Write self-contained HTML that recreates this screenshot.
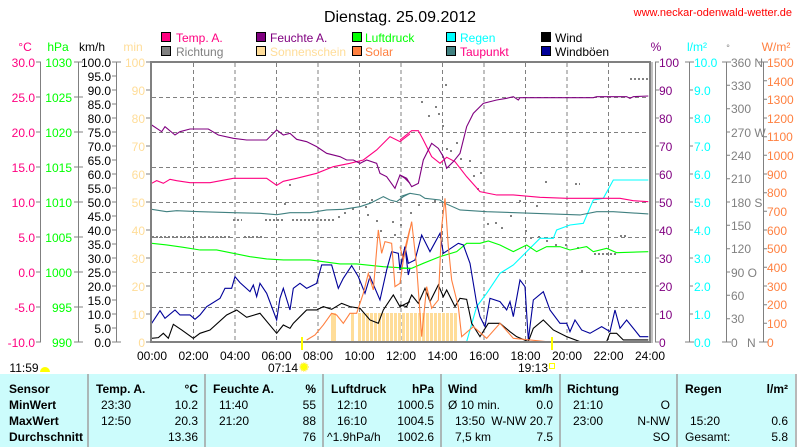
<!DOCTYPE html>
<html><head><meta charset="utf-8"><style>
body{margin:0;background:#fff;}
svg{display:block;font-family:"Liberation Sans",sans-serif;}
.n{vector-effect:non-scaling-stroke;fill:none;stroke-width:1.1;}
</style></head><body>
<svg width="800" height="447" viewBox="0 0 800 447" xmlns="http://www.w3.org/2000/svg">
<rect width="800" height="447" fill="#fff"/>
<text x="400" y="22" font-size="16" text-anchor="middle">Dienstag. 25.09.2012</text>
<text x="792" y="16" font-size="11" fill="#ff0000" text-anchor="end">www.neckar-odenwald-wetter.de</text>
<g font-size="12">
<rect x="161.5" y="32.5" width="9" height="9" fill="#ff0080" stroke="#000"/><text x="176" y="42" fill="#ff0080">Temp. A.</text>
<rect x="161.5" y="46.5" width="9" height="9" fill="#808080" stroke="#000"/><text x="176" y="56" fill="#808080">Richtung</text>
<rect x="256.5" y="32.5" width="9" height="9" fill="#800080" stroke="#000"/><text x="270" y="42" fill="#800080">Feuchte A.</text>
<rect x="256.5" y="46.5" width="9" height="9" fill="#ffdd99" stroke="#000"/><text x="270" y="56" fill="#ffdd99">Sonnenschein</text>
<rect x="352.5" y="32.5" width="9" height="9" fill="#00ff00" stroke="#000"/><text x="365" y="42" fill="#00ff00">Luftdruck</text>
<rect x="352.5" y="46.5" width="9" height="9" fill="#ff8040" stroke="#000"/><text x="365" y="56" fill="#ff8040">Solar</text>
<rect x="446.5" y="32.5" width="9" height="9" fill="#00ffff" stroke="#000"/><text x="460" y="42" fill="#00ffff">Regen</text>
<rect x="446.5" y="46.5" width="9" height="9" fill="#408080" stroke="#000"/><text x="460" y="56" fill="#ff0080">Taupunkt</text>
<rect x="541.5" y="32.5" width="9" height="9" fill="#000" stroke="#000"/><text x="555" y="42">Wind</text>
<rect x="541.5" y="46.5" width="9" height="9" fill="#000099" stroke="#000"/><text x="555" y="56">Windböen</text>
</g>
<g font-size="12">
<text x="25" y="51" fill="#ff0080" text-anchor="middle">°C</text>
<text x="58" y="51" fill="#00ff00" text-anchor="middle">hPa</text>
<text x="92" y="51" text-anchor="middle">km/h</text>
<text x="133" y="51" fill="#ffdd99" text-anchor="middle">min</text>
<text x="656" y="51" fill="#800080" text-anchor="middle">%</text>
<text x="697" y="51" fill="#00ffff" text-anchor="middle">l/m²</text>
<text x="728" y="51" fill="#808080" text-anchor="middle" font-size="9">°</text>
<text x="776" y="51" fill="#ff8040" text-anchor="middle">W/m²</text>
</g>
<g stroke="#808080" stroke-dasharray="4,3" stroke-width="1">
<line x1="193.5" y1="63" x2="193.5" y2="342"/><line x1="235" y1="63" x2="235" y2="342"/><line x1="276.5" y1="63" x2="276.5" y2="342"/><line x1="318" y1="63" x2="318" y2="342"/><line x1="359.5" y1="63" x2="359.5" y2="342"/><line x1="401" y1="63" x2="401" y2="342"/><line x1="442.5" y1="63" x2="442.5" y2="342"/><line x1="484" y1="63" x2="484" y2="342"/><line x1="525.5" y1="63" x2="525.5" y2="342"/><line x1="567" y1="63" x2="567" y2="342"/><line x1="608.5" y1="63" x2="608.5" y2="342"/>
<line x1="152" y1="97.5" x2="650" y2="97.5"/><line x1="152" y1="132.5" x2="650" y2="132.5"/><line x1="152" y1="167.5" x2="650" y2="167.5"/><line x1="152" y1="202.5" x2="650" y2="202.5"/><line x1="152" y1="237.5" x2="650" y2="237.5"/><line x1="152" y1="272.5" x2="650" y2="272.5"/><line x1="152" y1="307.5" x2="650" y2="307.5"/>
</g>
<g fill="#ffdd99">
<rect x="331" y="313" width="3" height="29"/><rect x="334" y="313" width="2" height="29"/><rect x="351" y="313" width="3" height="29"/>
<rect x="358" y="313" width="3" height="29"/><rect x="362" y="313" width="3" height="29"/><rect x="366" y="313" width="3" height="29"/><rect x="370" y="313" width="3" height="29"/><rect x="374" y="313" width="3" height="29"/><rect x="378" y="313" width="3" height="29"/><rect x="382" y="313" width="3" height="29"/><rect x="386" y="313" width="3" height="29"/><rect x="390" y="313" width="3" height="29"/><rect x="394" y="313" width="3" height="29"/><rect x="398" y="313" width="3" height="29"/><rect x="402" y="313" width="3" height="29"/><rect x="406" y="313" width="3" height="29"/><rect x="410" y="313" width="3" height="29"/><rect x="414" y="313" width="3" height="29"/><rect x="418" y="313" width="3" height="29"/><rect x="422" y="313" width="3" height="29"/><rect x="426" y="313" width="3" height="29"/><rect x="430" y="313" width="3" height="29"/><rect x="434" y="313" width="3" height="29"/><rect x="438" y="313" width="3" height="29"/><rect x="442" y="313" width="3" height="29"/><rect x="446" y="313" width="3" height="29"/><rect x="450" y="313" width="3" height="29"/><rect x="454" y="313" width="3" height="29"/>
</g>
<g fill="#808080">
<g stroke="#808080" stroke-dasharray="2,2" stroke-width="2">
<line x1="152" y1="237" x2="232" y2="237"/><line x1="244" y1="237" x2="264" y2="237"/>
<line x1="233" y1="220" x2="242" y2="220"/><line x1="265" y1="220" x2="285" y2="220"/><line x1="292" y1="220" x2="336" y2="220"/>
<line x1="630" y1="79" x2="649" y2="79"/><line x1="575" y1="184" x2="580" y2="184"/><line x1="620" y1="236" x2="628" y2="236"/><line x1="594" y1="254" x2="616" y2="254"/>
</g>
<rect x="289" y="184" width="2" height="2"/><rect x="284" y="203" width="2" height="2"/><rect x="338" y="216" width="2" height="2"/><rect x="344" y="212" width="2" height="2"/><rect x="352" y="208" width="2" height="2"/><rect x="365" y="206" width="2" height="2"/><rect x="367" y="214" width="2" height="2"/><rect x="371" y="199" width="2" height="2"/><rect x="376" y="220" width="2" height="2"/><rect x="380" y="230" width="2" height="2"/><rect x="394" y="234" width="2" height="2"/><rect x="400" y="224" width="2" height="2"/><rect x="400" y="199" width="2" height="2"/><rect x="392" y="221" width="2" height="2"/>
<rect x="421" y="101" width="2" height="2"/><rect x="445" y="84" width="2" height="2"/><rect x="435" y="106" width="2" height="2"/><rect x="428" y="115" width="2" height="2"/><rect x="438" y="113" width="2" height="2"/><rect x="442" y="125" width="2" height="2"/><rect x="446" y="148" width="2" height="2"/><rect x="456" y="142" width="2" height="2"/><rect x="450" y="150" width="2" height="2"/><rect x="460" y="158" width="2" height="2"/><rect x="469" y="160" width="2" height="2"/><rect x="473" y="175" width="2" height="2"/><rect x="477" y="188" width="2" height="2"/><rect x="480" y="172" width="2" height="2"/><rect x="495" y="222" width="2" height="2"/><rect x="487" y="223" width="2" height="2"/><rect x="510" y="215" width="2" height="2"/><rect x="519" y="200" width="2" height="2"/><rect x="525" y="230" width="2" height="2"/><rect x="530" y="237" width="2" height="2"/><rect x="538" y="236" width="2" height="2"/><rect x="546" y="240" width="2" height="2"/><rect x="555" y="244" width="2" height="2"/><rect x="565" y="244" width="2" height="2"/><rect x="581" y="270" width="2" height="2"/><rect x="577" y="247" width="2" height="2"/><rect x="536" y="205" width="2" height="2"/><rect x="501" y="227" width="2" height="2"/><rect x="545" y="181" width="2" height="2"/><rect x="434" y="200" width="2" height="2"/><rect x="418" y="204" width="2" height="2"/><rect x="410" y="212" width="2" height="2"/>
</g>
<g transform="translate(150,60) scale(0.3333)">
<polyline class="n" stroke="#ff0080" points="5,370 20,362 40,370 60,358 80,362 120,368 180,368 250,355 350,355 380,376 400,364 440,355 500,340 550,320 600,310 640,300 680,270 720,230 750,245 780,222"/>
<polyline class="n" stroke="#800080" points="5,195 35,215 45,200 75,225 90,215 120,207 175,207 205,225 250,235 290,240 350,240 380,210 400,225 420,220 440,238 470,245 500,260 530,280 570,290 590,300 610,300 630,310 650,300 680,310 690,340 710,350 735,385 750,345 765,355 780,370"/>
<polyline class="n" stroke="#408080" points="5,448 50,455 80,452 150,455 250,458 330,460 380,464 420,458 480,458 530,450 580,448 630,440 660,430 680,420 700,410 720,420 740,425 760,410 780,400"/>
<polyline class="n" stroke="#00ff00" points="5,550 50,555 100,562 150,570 200,570 250,580 300,590 350,597 400,600 480,600 520,605 570,612 620,612 700,620 780,625"/>
<polyline class="n" stroke="#000099" points="5,790 30,752 45,775 75,750 90,765 120,765 135,778 150,765 170,740 210,715 225,685 245,685 255,650 270,668 300,695 310,675 320,710 330,670 350,700 380,780 390,715 400,685 420,750 430,685 450,670 470,685 500,670 515,615 545,615 565,685 580,655 605,617 625,650 645,700 660,650 690,720 710,630 725,575 745,580 750,630 765,560 775,645 780,625"/>
<polyline class="n" stroke="#000" points="5,835 25,833 40,820 55,835 70,793 95,810 130,835 150,820 180,810 230,765 260,750 290,772 330,760 380,820 400,795 420,805 430,790 470,750 500,750 520,740 545,748 575,730 600,740 630,745 660,780 685,790 700,750 730,705 750,740 780,725"/>
<polyline class="n" stroke="#ff8040" points="470,840 495,825 520,795 545,760 560,765 580,790 600,760 620,760 640,700 655,640 670,690 685,510 695,580 705,545 725,550 735,680 750,670 765,565 780,505"/>
</g>
<g transform="translate(400,60) scale(0.3333)">
<polyline class="n" stroke="#00ffff" points="200,845 230,740 260,700 300,640 340,615 380,575 420,535 460,535 470,510 510,495 550,490 580,420 610,415 640,360 745,360"/>
<polyline class="n" stroke="#ff0080" points="0,240 35,212 55,212 70,240 95,290 120,310 140,292 165,305 200,350 240,395 290,405 340,405 420,412 500,415 620,415 660,415 700,422 745,425"/>
<polyline class="n" stroke="#800080" points="0,345 20,355 35,380 55,370 70,300 95,250 115,265 130,290 140,325 160,305 180,280 200,200 220,160 250,130 290,120 320,115 340,110 355,120 360,113 450,113 580,113 590,110 680,110 690,115 700,110 745,108"/>
<polyline class="n" stroke="#408080" points="0,410 30,400 60,405 75,415 120,420 135,430 180,450 260,455 400,460 540,465 590,455 640,455 745,462"/>
<polyline class="n" stroke="#00ff00" points="0,625 35,625 70,610 120,590 170,575 200,550 240,550 265,543 300,555 340,575 380,555 410,575 440,560 480,560 510,570 560,560 580,575 620,565 650,578 745,575"/>
<polyline class="n" stroke="#000099" points="0,625 15,560 25,610 45,600 65,525 90,575 120,520 130,580 175,550 190,555 210,610 230,730 240,770 255,800 270,715 300,725 320,750 330,725 340,770 360,660 375,680 385,840 400,720 430,695 450,750 480,790 500,790 510,815 525,780 545,810 570,820 605,800 630,815 645,750 660,805 680,780 720,830 745,830"/>
<polyline class="n" stroke="#000" points="0,735 20,740 35,705 55,730 75,685 90,725 115,675 130,710 140,690 165,740 180,715 200,718 215,790 240,830 265,790 300,790 330,815 350,830 385,845 400,805 430,780 460,810 500,830 540,845 620,845 630,820 650,820 670,840 745,840"/>
<polyline class="n" stroke="#ff8040" points="0,560 10,600 35,485 50,620 65,830 80,680 95,745 115,720 125,500 135,415 145,560 155,660 175,740 185,830 220,800 260,835 300,790 340,835 440,845"/>
</g>
<rect x="151" y="62" width="499" height="280" fill="none" stroke="#808080" stroke-width="2"/>
<line x1="652" y1="62" x2="652" y2="343" stroke="#808080" stroke-width="1"/>
<rect x="301" y="337" width="2" height="13" fill="#ffff00"/>
<rect x="551" y="337" width="2" height="13" fill="#ffff00"/>
<g stroke="#808080" stroke-width="1">
<line x1="40.5" y1="62" x2="40.5" y2="342"/><line x1="78.5" y1="62" x2="78.5" y2="342"/><line x1="116.5" y1="62" x2="116.5" y2="342"/>
<line x1="689.5" y1="62" x2="689.5" y2="342"/><line x1="726.5" y1="62" x2="726.5" y2="342"/><line x1="763.5" y1="62" x2="763.5" y2="342"/><line x1="655.5" y1="62" x2="655.5" y2="342"/>
</g>
<g font-size="12" text-anchor="end" fill="#ff0080">
<text x="35" y="67">30.0</text><text x="35" y="102">25.0</text><text x="35" y="137">20.0</text><text x="35" y="172">15.0</text><text x="35" y="207">10.0</text><text x="35" y="242">5.0</text><text x="35" y="277">0.0</text><text x="35" y="312">-5.0</text><text x="35" y="347">-10.0</text>
</g>
<g font-size="12" text-anchor="end" fill="#00ff00">
<text x="72" y="67">1030</text><text x="72" y="102">1025</text><text x="72" y="137">1020</text><text x="72" y="172">1015</text><text x="72" y="207">1010</text><text x="72" y="242">1005</text><text x="72" y="277">1000</text><text x="72" y="312">995</text><text x="72" y="347">990</text>
</g>
<g font-size="12" text-anchor="end" fill="#000">
<text x="111" y="67">100.0</text><text x="111" y="81">95.0</text><text x="111" y="95">90.0</text><text x="111" y="109">85.0</text><text x="111" y="123">80.0</text><text x="111" y="137">75.0</text><text x="111" y="151">70.0</text><text x="111" y="165">65.0</text><text x="111" y="179">60.0</text><text x="111" y="193">55.0</text><text x="111" y="207">50.0</text><text x="111" y="221">45.0</text><text x="111" y="235">40.0</text><text x="111" y="249">35.0</text><text x="111" y="263">30.0</text><text x="111" y="277">25.0</text><text x="111" y="291">20.0</text><text x="111" y="305">15.0</text><text x="111" y="319">10.0</text><text x="111" y="333">5.0</text><text x="111" y="347">0.0</text>
</g>
<g font-size="12" text-anchor="end" fill="#ffdd99">
<text x="145" y="67">100</text><text x="145" y="95">90</text><text x="145" y="123">80</text><text x="145" y="151">70</text><text x="145" y="179">60</text><text x="145" y="207">50</text><text x="145" y="235">40</text><text x="145" y="263">30</text><text x="145" y="291">20</text><text x="145" y="319">10</text><text x="145" y="347">0</text>
</g>
<g stroke="#808080">
<path d="M36 62h5M36 97h5M36 132h5M36 167h5M36 202h5M36 237h5M36 272h5M36 307h5M36 342h5"/>
<path d="M74 62h9M74 97h9M74 132h9M74 167h9M74 202h9M74 237h9M74 272h9M74 307h9M74 342h9"/>
<path d="M112 62h9M112 76h5M112 90h5M112 104h5M112 118h5M112 132h5M112 146h5M112 160h5M112 174h5M112 188h5M112 202h5M112 216h5M112 230h5M112 244h5M112 258h5M112 272h5M112 286h5M112 300h5M112 314h5M112 328h5M112 342h9"/>
<path d="M146 62h5M146 90h5M146 118h5M146 146h5M146 174h5M146 202h5M146 230h5M146 258h5M146 286h5M146 314h5M146 342h5"/>
<path d="M655 62h4M655 90h4M655 118h4M655 146h4M655 174h4M655 202h4M655 230h4M655 258h4M655 286h4M655 314h4M655 342h4"/>
<path d="M685 62h9M689 90h4M689 118h4M689 146h4M689 174h4M689 202h4M689 230h4M689 258h4M689 286h4M689 314h4M685 342h9"/>
<path d="M722 62h9M726 85.3h4M726 108.7h4M726 132h4M726 155.3h4M726 178.7h4M726 202h4M726 225.3h4M726 248.7h4M726 272h4M726 295.3h4M726 318.7h4M722 342h9"/>
<path d="M759 62h9M763 80.7h4M763 99.3h4M763 118h4M763 136.7h4M763 155.3h4M763 174h4M763 192.7h4M763 211.3h4M763 230h4M763 248.7h4M763 267.3h4M763 286h4M763 304.7h4M763 323.3h4M759 342h9"/>
</g>
<g font-size="12" fill="#800080">
<text x="659" y="67">100</text><text x="659" y="95">90</text><text x="659" y="123">80</text><text x="659" y="151">70</text><text x="659" y="179">60</text><text x="659" y="207">50</text><text x="659" y="235">40</text><text x="659" y="263">30</text><text x="659" y="291">20</text><text x="659" y="319">10</text><text x="659" y="347">0</text>
</g>
<g font-size="12" fill="#00ffff">
<text x="694" y="67">10.0</text><text x="694" y="95">9.0</text><text x="694" y="123">8.0</text><text x="694" y="151">7.0</text><text x="694" y="179">6.0</text><text x="694" y="207">5.0</text><text x="694" y="235">4.0</text><text x="694" y="263">3.0</text><text x="694" y="291">2.0</text><text x="694" y="319">1.0</text><text x="694" y="347">0.0</text>
</g>
<g font-size="12" fill="#808080">
<text x="731" y="67">360 N</text><text x="731" y="90">330</text><text x="731" y="113">300</text><text x="731" y="137">270 W</text><text x="731" y="160">240</text><text x="731" y="183">210</text><text x="731" y="207">180 S</text><text x="731" y="230">150</text><text x="731" y="253">120</text><text x="731" y="277">90 O</text><text x="731" y="300">60</text><text x="731" y="323">30</text><text x="731" y="347">0</text><text x="747" y="347">N</text>
</g>
<g font-size="12" fill="#ff8040">
<text x="767" y="67">1500</text><text x="767" y="86">1400</text><text x="767" y="104">1300</text><text x="767" y="123">1200</text><text x="767" y="141">1100</text><text x="767" y="160">1000</text><text x="767" y="179">900</text><text x="767" y="197">800</text><text x="767" y="216">700</text><text x="767" y="235">600</text><text x="767" y="253">500</text><text x="767" y="272">400</text><text x="767" y="291">300</text><text x="767" y="309">200</text><text x="767" y="328">100</text><text x="767" y="347">0</text>
</g>
<g font-size="12" text-anchor="middle">
<text x="152" y="360">00:00</text><text x="193.5" y="360">02:00</text><text x="235" y="360">04:00</text><text x="276.5" y="360">06:00</text><text x="318" y="360">08:00</text><text x="359.5" y="360">10:00</text><text x="401" y="360">12:00</text><text x="442.5" y="360">14:00</text><text x="484" y="360">16:00</text><text x="525.5" y="360">18:00</text><text x="567" y="360">20:00</text><text x="608.5" y="360">22:00</text><text x="650" y="360">24:00</text>
<text x="283" y="372">07:14</text><text x="533" y="372">19:13</text><text x="24" y="372">11:59</text>
</g>
<circle cx="304" cy="367" r="4" fill="#ffff00" stroke="#ffee88" stroke-width="2" stroke-dasharray="1,1"/>
<rect x="549.5" y="363.5" width="5" height="5" fill="none" stroke="#ffff00"/>
<path d="M40 372 a5 5 0 0 1 10 0z" fill="#ffff00"/>
<rect x="0" y="374" width="795" height="73" fill="#ccfcfc"/>
<g stroke="#a0a0a0" stroke-width="1.5">
<line x1="88" y1="374" x2="88" y2="447"/><line x1="205" y1="374" x2="205" y2="447"/><line x1="323" y1="374" x2="323" y2="447"/><line x1="441" y1="374" x2="441" y2="447"/><line x1="560" y1="374" x2="560" y2="447"/><line x1="677" y1="374" x2="677" y2="447"/><line x1="796" y1="374" x2="796" y2="447"/>
</g>
<g font-size="12" font-weight="bold">
<text x="9" y="393">Sensor</text><text x="9" y="409">MinWert</text><text x="9" y="425">MaxWert</text><text x="9" y="441">Durchschnitt</text>
<text x="96" y="393">Temp. A.</text><text x="198" y="393" text-anchor="end">°C</text>
<text x="213" y="393">Feuchte A.</text><text x="316" y="393" text-anchor="end">%</text>
<text x="331" y="393">Luftdruck</text><text x="434" y="393" text-anchor="end">hPa</text>
<text x="448" y="393">Wind</text><text x="553" y="393" text-anchor="end">km/h</text>
<text x="567" y="393">Richtung</text>
<text x="685" y="393">Regen</text><text x="788" y="393" text-anchor="end">l/m²</text>
</g>
<g font-size="12">
<text x="101" y="409">23:30</text><text x="198" y="409" text-anchor="end">10.2</text>
<text x="101" y="425">12:50</text><text x="198" y="425" text-anchor="end">20.3</text>
<text x="198" y="441" text-anchor="end">13.36</text>
<text x="219" y="409">11:40</text><text x="316" y="409" text-anchor="end">55</text>
<text x="219" y="425">21:20</text><text x="316" y="425" text-anchor="end">88</text>
<text x="316" y="441" text-anchor="end">76</text>
<text x="337" y="409">12:10</text><text x="434" y="409" text-anchor="end">1000.5</text>
<text x="337" y="425">16:10</text><text x="434" y="425" text-anchor="end">1004.5</text>
<text x="327" y="441">^1.9hPa/h</text><text x="434" y="441" text-anchor="end">1002.6</text>
<text x="448" y="409">Ø 10 min.</text><text x="553" y="409" text-anchor="end">0.0</text>
<text x="455" y="425">13:50</text><text x="553" y="425" text-anchor="end">W-NW 20.7</text>
<text x="455" y="441">7,5 km</text><text x="553" y="441" text-anchor="end">7.5</text>
<text x="573" y="409">21:10</text><text x="670" y="409" text-anchor="end">O</text>
<text x="573" y="425">23:00</text><text x="670" y="425" text-anchor="end">N-NW</text>
<text x="670" y="441" text-anchor="end">SO</text>
<text x="690" y="425">15:20</text><text x="788" y="425" text-anchor="end">0.6</text>
<text x="685" y="441">Gesamt:</text><text x="788" y="441" text-anchor="end">5.8</text>
</g>
</svg>
</body></html>
